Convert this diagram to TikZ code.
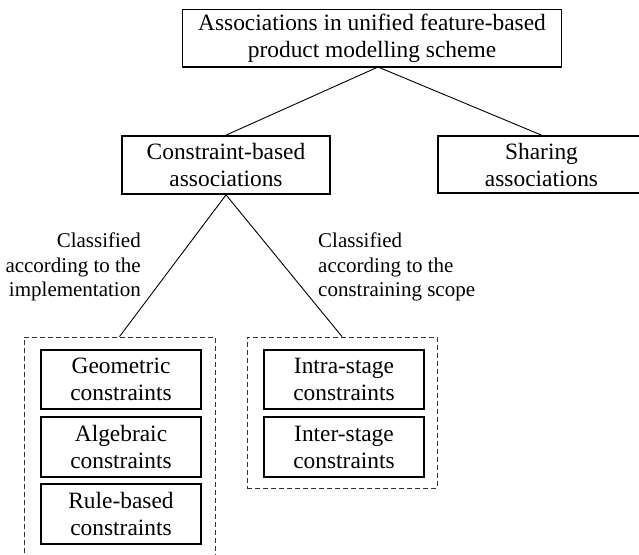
\documentclass[tikz,border=0pt]{standalone}
\usepackage{fontspec}
\setmainfont{Liberation Serif}
\newfontfamily\timesfont{Liberation Serif}
\begin{document}
\begin{tikzpicture}[x=1pt,y=-1pt,
  box/.style={draw,line width=1.7pt,rectangle,inner sep=0pt,align=center,
    font=\timesfont\fontsize{23.4}{27}\selectfont},
  group/.style={draw,dashed,dash pattern=on 5pt off 3pt,line width=0.8pt,
    rectangle,inner sep=0pt,draw=black!80},
  link/.style={draw,line width=0.9pt},
  note/.style={font=\timesfont\fontsize{21}{24.5}\selectfont,inner sep=0pt}]
\useasboundingbox (0,0) rectangle (639,554);

% top level
\node[box,minimum width=379pt,minimum height=57.5pt] (root) at (372,38.3)
  {Associations in unified feature-based\\product modelling scheme};
\coordinate (rootj) at (378,67);

% second level
\node[box,minimum width=208pt,minimum height=58pt] (cons) at (226,165)
  {Constraint-based\\associations};
\node[box,minimum width=207pt,minimum height=57pt] (share) at (541.5,164.5)
  {Sharing\\associations};

% dashed groups
\node[group,minimum width=191pt,minimum height=223pt] (gimpl) at (119.5,448.5) {};
\node[group,minimum width=190pt,minimum height=151pt] (gscope) at (342,412.5) {};

% implementation-based constraints
\node[box,minimum width=160pt,minimum height=59pt] (geo) at (121,379.5)
  {Geometric\\constraints};
\node[box,minimum width=160pt,minimum height=60pt] (alg) at (121,447)
  {Algebraic\\constraints};
\node[box,minimum width=160pt,minimum height=60pt] (rule) at (121,514)
  {Rule-based\\constraints};

% scope-based constraints
\node[box,minimum width=160pt,minimum height=59pt] (intra) at (344,379.5)
  {Intra-stage\\constraints};
\node[box,minimum width=160pt,minimum height=60pt] (inter) at (344,447)
  {Inter-stage\\constraints};

% connectors
\draw[link] (rootj) -- (cons.north);
\draw[link] (rootj) -- (share.north);
\draw[link] (cons.south) -- (gimpl.north);
\draw[link] (cons.south) -- (gscope.north);

% classification notes
\node[note,anchor=east,align=right] (nimpl) at (141,267)
  {Classified\\according to the\\implementation};
\node[note,anchor=west,align=left] (nscope) at (318,267)
  {Classified\\according to the\\constraining scope};
\end{tikzpicture}
\end{document}
